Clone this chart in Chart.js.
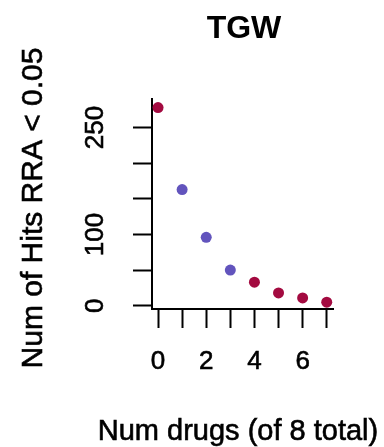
<!DOCTYPE html>
<html>
<head>
<meta charset="utf-8">
<script src="https://cdn.jsdelivr.net/npm/chart.js@4.4.1/dist/chart.umd.min.js"></script>
<style>
  html, body { margin: 0; padding: 0; background: #fff; }
  #wrap { width: 384px; height: 447px; }
</style>
</head>
<body>
<div id="wrap"><canvas id="hitsChart" width="384" height="447"></canvas></div>
<script>
  'use strict';
  // data
  var numDrugs = [0, 1, 2, 3, 4, 5, 6, 7];
  var numHits = [278, 163, 96, 50, 33, 18, 11, 5];
  var pointColors = ['#a30a40', '#6254bd', '#6254bd', '#6254bd', '#a30a40', '#a30a40', '#a30a40', '#a30a40'];
  var yTicks = [0, 50, 100, 150, 200, 250];
  var yTickLabels = ['0', '', '100', '', '', '250'];
  var xTicks = [0, 1, 2, 3, 4, 5, 6, 7];

  var chartTitle = 'TGW';
  var xTitle = 'Num drugs (of 8 total)';
  var yTitle = 'Num of Hits RRA < 0.05';

  var FONT = '"Liberation Sans", Arial, Helvetica, sans-serif';

  // R style texts: rotated y tick labels and titles (slight stroke for the heavier look)
  function heavyText(ctx, txt, x, y) {
    ctx.fillText(txt, x, y);
    ctx.strokeText(txt, x, y);
  }

  var rTexts = {
    id: 'rTexts',
    afterDraw: function(chart) {
      var ctx = chart.ctx;
      var y = chart.scales.y;
      ctx.save();
      ctx.fillStyle = '#000';
      ctx.strokeStyle = '#000';
      ctx.lineWidth = 0.6;

      ctx.font = '26px ' + FONT;
      ctx.textAlign = 'center';
      ctx.textBaseline = 'middle';
      yTicks.forEach(function(v, i) {
        if (!yTickLabels[i]) return;
        ctx.save();
        ctx.translate(95, y.getPixelForValue(v));
        ctx.rotate(-Math.PI / 2);
        heavyText(ctx, yTickLabels[i], 0, 1);
        ctx.restore();
      });

      ctx.font = 'bold 32px ' + FONT;
      ctx.textBaseline = 'alphabetic';
      ctx.fillText(chartTitle, 244, 38);

      ctx.font = '29px ' + FONT;
      heavyText(ctx, xTitle, 238, 440);

      ctx.save();
      ctx.font = '30px ' + FONT;
      ctx.translate(42, 208);
      ctx.rotate(-Math.PI / 2);
      heavyText(ctx, yTitle, 0, 0);
      ctx.restore();

      // x tick labels, even values only
      var x = chart.scales.x;
      ctx.font = '26px ' + FONT;
      ctx.textBaseline = 'middle';
      xTicks.forEach(function(v) {
        if (v % 2 !== 0) return;
        heavyText(ctx, String(v), x.getPixelForValue(v), 362);
      });

      ctx.restore();
    }
  };

  var ctx = document.getElementById('hitsChart').getContext('2d');
  var hitsChart = new Chart(ctx, {
    type: 'scatter',
    data: {
      datasets: [{
        data: numDrugs.map(function(d, i) { return { x: d, y: numHits[i] }; }),
        backgroundColor: pointColors,
        borderWidth: 0,
        pointRadius: 5.5,
        pointHoverRadius: 5.5,
        clip: false
      }]
    },
    options: {
      responsive: false,
      animation: false,
      events: [],
      layout: { padding: { left: 0, top: 99, right: 51, bottom: 0 } },
      plugins: {
        legend: { display: false },
        title: { display: false },
        tooltip: { enabled: false }
      },
      scales: {
        x: {
          type: 'linear',
          min: -0.25,
          max: 7.26,
          afterBuildTicks: function(s) { s.ticks = xTicks.map(function(v) { return { value: v }; }); },
          afterFit: function(s) { s.height = 138; },
          border: { display: true, color: '#000', width: 2 },
          grid: { drawOnChartArea: false, drawTicks: true, tickLength: 19, tickWidth: 2, tickColor: '#000' },
          ticks: { display: false }
        },
        y: {
          type: 'linear',
          min: -4.6,
          max: 290,
          afterBuildTicks: function(s) { s.ticks = yTicks.map(function(v) { return { value: v }; }); },
          afterFit: function(s) { s.width = 152; },
          border: { display: true, color: '#000', width: 2 },
          grid: { drawOnChartArea: false, drawTicks: true, tickLength: 19, tickWidth: 2, tickColor: '#000' },
          ticks: { display: false }
        }
      }
    },
    plugins: [rTexts]
  });
</script>
</body>
</html>
